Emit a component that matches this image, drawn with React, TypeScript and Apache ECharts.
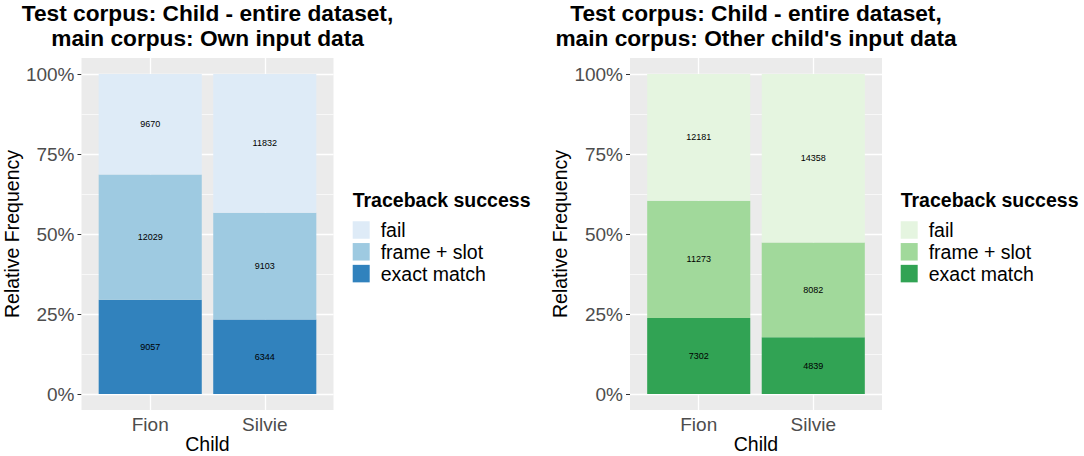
import React, { useEffect, useRef } from "react";
import * as echarts from "echarts";

// ---------- data ----------
const categories = ["Fion", "Silvie"];
const levels = ["exact match", "frame + slot", "fail"]; // stacking order, bottom to top
const legendOrder = ["fail", "frame + slot", "exact match"];

// counts (Fion, Silvie)
const ownExact = [9057, 6344];
const ownFrame = [12029, 9103];
const ownFail = [9670, 11832];

const otherExact = [7302, 4839];
const otherFrame = [11273, 8082];
const otherFail = [12181, 14358];

const yTicks = [0, 25, 50, 75, 100];
const yMinor = [12.5, 37.5, 62.5, 87.5];

const blues = ["#3182BD", "#9ECAE1", "#DEEBF7"];
const greens = ["#31A354", "#A1D99B", "#E5F5E0"];

const titleLeft = ["Test corpus: Child - entire dataset,", "main corpus: Own input data"];
const titleRight = ["Test corpus: Child - entire dataset,", "main corpus: Other child's input data"];

const FONT = "Liberation Sans, Arial, Helvetica, sans-serif";

function App() {
  const ref = useRef<HTMLDivElement>(null);

  useEffect(() => {
    document.body.style.margin = "0";
    const chart = echarts.init(ref.current!, null, { renderer: "svg" });

    const panels = [
      { left: 81.5, counts: [ownExact, ownFrame, ownFail], colors: blues, suffix: "", title: titleLeft, legendX: 352.7 },
      { left: 630, counts: [otherExact, otherFrame, otherFail], colors: greens, suffix: "#2", title: titleRight, legendX: 900.7 },
    ];
    const panelW = 252;
    const panelTop = 58;
    const panelH = 352;

    const grids: any[] = [];
    const xAxes: any[] = [];
    const yAxes: any[] = [];
    const series: any[] = [];
    const legends: any[] = [];
    const graphics: any[] = [];

    panels.forEach((p, pi) => {
      grids.push({
        left: p.left,
        top: panelTop,
        width: panelW,
        height: panelH,
        show: true,
        backgroundColor: "#EBEBEB",
        borderWidth: 0,
        containLabel: false,
        outerBoundsMode: "none",
      });
      xAxes.push({
        type: "value",
        gridIndex: pi,
        min: 0.4,
        max: 2.6,
        name: "Child",
        nameLocation: "middle",
        nameGap: 24,
        nameMoveOverlap: false,
        nameTextStyle: { fontSize: 19.5, color: "#000", fontFamily: FONT },
        axisLine: { show: false },
        axisTick: { show: true, customValues: [1, 2], length: 4, lineStyle: { color: "#333", width: 1 } },
        axisLabel: {
          customValues: [1, 2],
          formatter: (v: number) => categories[Math.round(v) - 1] ?? "",
          fontSize: 19,
          color: "#4D4D4D",
          fontFamily: FONT,
          margin: 5,
        },
        splitLine: { show: false },
      });
      yAxes.push({
        type: "value",
        gridIndex: pi,
        min: -5,
        max: 105,
        name: "Relative Frequency",
        nameLocation: "middle",
        nameGap: 60,
        nameTextStyle: { fontSize: 19.5, color: "#000", fontFamily: FONT },
        axisLine: { show: false },
        axisTick: { show: true, customValues: yTicks, length: 4, lineStyle: { color: "#333", width: 1 } },
        axisLabel: {
          customValues: yTicks,
          formatter: (v: number) => `${v}%`,
          fontSize: 19,
          color: "#4D4D4D",
          fontFamily: FONT,
          margin: 7,
        },
        splitLine: { show: false },
      });

      const totals = categories.map((_, ci) => p.counts.reduce((s, arr) => s + arr[ci], 0));

      levels.forEach((lv, li) => {
        const cnt = p.counts[li];
        const s: any = {
          type: "bar",
          name: lv + p.suffix,
          xAxisIndex: pi,
          yAxisIndex: pi,
          stack: "panel" + pi,
          barWidth: "90%",
          z: 3,
          encode: { x: 1, y: 0 },
          itemStyle: { color: p.colors[li] },
          label: {
            show: true,
            position: "inside",
            color: "#000",
            fontSize: 9,
            fontFamily: FONT,
            formatter: (prm: any) => String(cnt[prm.dataIndex]),
          },
          emphasis: { disabled: true },
          // [relative frequency %, category position]
          data: categories.map((_, ci) => [(cnt[ci] / totals[ci]) * 100, ci + 1]),
        };
        if (li === 0) {
          s.markLine = {
            silent: true,
            symbol: ["none", "none"],
            z: 1,
            label: { show: false },
            emphasis: { disabled: true },
            lineStyle: { color: "#FFFFFF", type: "solid", width: 1.2 },
            data: [
              ...yTicks.map((v) => ({ yAxis: v, lineStyle: { color: "#FFFFFF", type: "solid", width: 1.3 } })),
              ...yMinor.map((v) => ({ yAxis: v, lineStyle: { color: "#FFFFFF", type: "solid", width: 0.65 } })),
              ...categories.map((_, ci) => ({ xAxis: ci + 1, lineStyle: { color: "#FFFFFF", type: "solid", width: 1.3 } })),
            ],
          };
        }
        series.push(s);
      });

      legends.push({
        orient: "vertical",
        left: p.legendX,
        top: 220,
        padding: 0,
        icon: "rect",
        itemWidth: 17,
        itemHeight: 17.5,
        itemGap: 1.8,
        selectedMode: false,
        data: legendOrder.map((n) => n + p.suffix),
        formatter: (n: string) => n.replace("#2", ""),
        textStyle: {
          fontSize: 19.5,
          color: "#000",
          fontFamily: FONT,
          lineHeight: 17.5,
          padding: [0, 0, 0, 6],
        },
      });

      graphics.push({
        type: "text",
        x: p.legendX,
        y: 200,
        style: {
          text: "Traceback success",
          fontSize: 19.5,
          fontWeight: "bold",
          fontFamily: FONT,
          fill: "#000",
          textAlign: "left",
          textVerticalAlign: "middle",
        },
      });

      const cx = p.left + panelW / 2;
      p.title.forEach((line, k) => {
        graphics.push({
          type: "text",
          x: cx,
          y: 13 + k * 25,
          style: {
            text: line,
            fontSize: 22.7,
            fontWeight: "bold",
            fontFamily: FONT,
            fill: "#000",
            textAlign: "center",
            textVerticalAlign: "middle",
          },
        });
      });
    });

    chart.setOption({
      animation: false,
      backgroundColor: "#FFFFFF",
      textStyle: { fontFamily: FONT },
      grid: grids,
      xAxis: xAxes,
      yAxis: yAxes,
      legend: legends,
      series,
      graphic: graphics,
    });

    return () => chart.dispose();
  }, []);

  return <div ref={ref} style={{ width: 1084, height: 456 }} />;
}

export default App;
